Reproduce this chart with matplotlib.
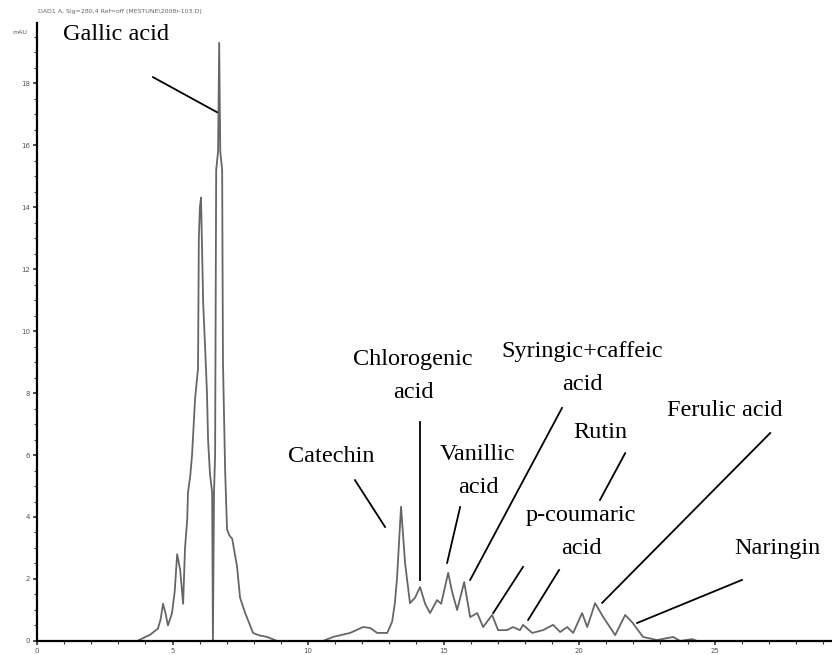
import numpy as np
import matplotlib
matplotlib.use("Agg")
import matplotlib.pyplot as plt

# chromatogram (retention time in min, absorbance in mAU)
rt = [0.0, 3.69, 4.17, 4.46, 4.56, 4.65, 4.74, 4.83, 4.98, 5.08, 5.17, 5.28,
      5.39, 5.46, 5.54, 5.57, 5.65, 5.72, 5.83, 5.94, 5.97, 6.01, 6.05, 6.13,
      6.20, 6.27, 6.31, 6.38, 6.46, 6.49, 6.53, 6.57, 6.61, 6.68, 6.72, 6.76,
      6.83, 6.86, 6.94, 7.01, 7.10, 7.20, 7.38, 7.49, 7.68, 7.97, 8.20, 8.49,
      8.86,
      10.55, 10.92, 11.55, 12.03, 12.29, 12.55, 12.92, 13.10, 13.20, 13.28,
      13.43, 13.58, 13.76, 13.95, 14.13, 14.32, 14.50, 14.76, 14.91, 15.17,
      15.31, 15.50, 15.76, 15.98, 16.24, 16.46, 16.79, 17.01, 17.34, 17.56,
      17.82, 17.93, 18.27, 18.67, 19.04, 19.30, 19.56, 19.78, 20.11, 20.30,
      20.59, 20.89, 21.33, 21.70, 21.96, 22.36, 22.88, 23.47, 23.73, 24.17,
      24.35, 29.3]
mau = [0.0, 0.0, 0.2, 0.4, 0.7, 1.2, 0.9, 0.5, 0.9, 1.6, 2.8, 2.3,
       1.2, 3.0, 3.9, 4.8, 5.3, 6.0, 7.8, 8.8, 13.0, 14.0, 14.3, 10.9,
       9.5, 8.0, 6.5, 5.4, 4.8, 0.0, 4.8, 6.0, 15.2, 15.8, 19.3, 15.8,
       15.2, 9.0, 5.5, 3.6, 3.4, 3.3, 2.4, 1.4, 0.9, 0.26, 0.18, 0.13,
       0.0,
       0.0, 0.13, 0.26, 0.45, 0.42, 0.26, 0.26, 0.62, 1.2, 2.0,
       4.33, 2.5, 1.22, 1.4, 1.74, 1.2, 0.9, 1.32, 1.2, 2.2,
       1.6, 1.0, 1.9, 0.77, 0.9, 0.45, 0.84, 0.35, 0.35, 0.45,
       0.35, 0.52, 0.26, 0.35, 0.52, 0.29, 0.45, 0.26, 0.9, 0.45,
       1.22, 0.77, 0.19, 0.84, 0.6, 0.13, 0.03, 0.13, 0.0, 0.06,
       0.0, 0.0]

# peak labels: text, text position, leader lines
labels = ["Gallic acid", "Chlorogenic\nacid", "Catechin", "Vanillic\nacid",
          "Syringic+caffeic\nacid", "Rutin", "p-coumaric\nacid",
          "Ferulic acid", "Naringin"]
label_xy = [(2.92, 19.58), (13.87, 8.55), (10.85, 5.94), (16.27, 5.5),
            (20.11, 8.82), (20.77, 6.74), (20.07, 3.5), (25.39, 7.45),
            (27.31, 2.97)]
leaders = [
    [((4.28, 18.19), (6.64, 17.06))],
    [((14.13, 7.06), (14.13, 1.97))],
    [((11.73, 5.19), (12.84, 3.68))],
    [((15.61, 4.32), (15.13, 2.52))],
    [((19.37, 7.52), (15.98, 1.97))],
    [((21.70, 6.06), (20.77, 4.55))],
    [((17.93, 2.39), (16.83, 0.90)), ((19.26, 2.29), (18.12, 0.68))],
    [((27.05, 6.71), (20.85, 1.23))],
    [((26.01, 1.97), (22.14, 0.58))],
]

fig = plt.figure(figsize=(8.32, 6.55), dpi=100)
ax = fig.add_axes([0.0445, 0.0214, 0.9555, 0.9436])

ax.plot(rt, mau, color="#666666", lw=1.3)

for txt, (tx, ty), segs in zip(labels, label_xy, leaders):
    ax.text(tx, ty, txt, ha="center", va="center", fontsize=17.5,
            family="Liberation Serif", linespacing=1.75)
    for (x0, y0), (x1, y1) in segs:
        ax.plot([x0, x1], [y0, y1], color="black", lw=1.3)

ax.set_xlim(0, 29.33)
ax.set_ylim(0, 19.94)
ax.spines["top"].set_visible(False)
ax.spines["right"].set_visible(False)
ax.spines["left"].set_linewidth(1.6)
ax.spines["bottom"].set_linewidth(1.6)

ax.set_xticks(np.arange(0, 30, 5))
ax.set_xticks(np.arange(0, 30, 1), minor=True)
ax.set_yticks(np.arange(0, 20, 2))
ax.set_yticks(np.arange(0, 20, 0.5), minor=True)
ax.tick_params(which="both", direction="out", color="#333333", labelsize=5,
               labelcolor="#555555", pad=2)
ax.tick_params(which="major", length=3, width=1.2)
ax.tick_params(which="minor", length=2, width=0.8)

ax.text(-0.012, 0.985, "mAU", transform=ax.transAxes, ha="right",
        va="center", fontsize=4.5, color="#555555")
fig.text(0.046, 0.983, r"DAD1 A, Sig=280,4 Ref=off (MESTUNE\2008r-103.D)",
         fontsize=4.5, color="#666666", va="center")

fig.savefig("out.png", dpi=100)
